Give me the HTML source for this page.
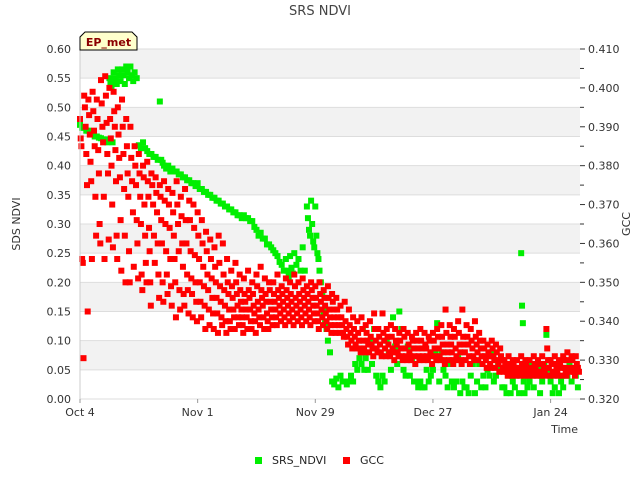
<!DOCTYPE html>
<html><head><meta charset="utf-8"><style>
body{margin:0;background:#fff;font-family:"Liberation Sans",sans-serif}
svg text{font-family:"DejaVu Sans","Liberation Sans",sans-serif}
</style></head><body>
<svg id="chart" width="640" height="480" xmlns="http://www.w3.org/2000/svg">
<text x="320" y="15" text-anchor="middle" font-size="13" fill="#444">SRS NDVI</text>
<g id="grid"></g>
<g id="marks"></g>
<g id="axes"></g>
<text x="20" y="224" transform="rotate(-90 20 224)" text-anchor="middle" font-size="11" fill="#333">SDS NDVI</text>
<text x="630" y="224" transform="rotate(-90 630 224)" text-anchor="middle" font-size="11" fill="#333">GCC</text>
<text x="578" y="433" text-anchor="end" font-size="11" fill="#333">Time</text>
<g>
<path d="M80,50 L80,37 L85,32 L132,32 L137,37 L137,50 Z" fill="#ffffcc" stroke="#000" stroke-width="1"/>
<text x="108.5" y="46" text-anchor="middle" font-size="11" font-weight="bold" fill="#8b0000">EP_met</text>
</g>
<g>
<g><rect x="255" y="457" width="7" height="7" fill="#00ee00"/><text x="272" y="464" font-size="11" fill="#222">SRS_NDVI</text></g>
<g><rect x="343" y="457" width="7" height="7" fill="#ff0000"/><text x="360" y="464" font-size="11" fill="#222">GCC</text></g>
</g>
</svg>
<script>
// NDVI: [dayOffsetFromOct4, values...]
const ndviData = [
[0,.47,.465],[1,.465,.46],[2,.46,.455],[3,.455,.45],[4,.45,.448],[5,.447,.445],[6,.445,.44],
[7,.55,.54,.535,.44],[8,.56,.55,.545,.54],[9,.565,.555,.545],[10,.565,.555,.54],[11,.57,.56,.55],[12,.57,.555,.545],[13,.56,.55],
[14,.435,.43],[15,.44,.43],[16,.425,.42],[17,.42,.415],[18,.415,.41],[19,.51,.41,.405],[20,.40,.395],[21,.40,.39],[22,.395,.39],
[23,.39,.385],[24,.385,.38],[25,.38,.375],[26,.375,.37],[27,.37,.365],[28,.37,.36],[29,.36,.355],[30,.355,.35],[31,.35,.345],
[32,.345,.34],[33,.34,.335],[34,.335,.33],[35,.33,.325],[36,.325,.32],[37,.32,.315],[38,.315,.31],[39,.315,.31],[40,.31,.305],
[41,.305,.295],[42,.29,.28],[43,.285,.275],[44,.275,.265],[45,.265,.26],[46,.255,.25],[47,.245,.235],[48,.23,.22],[49,.24,.22,.21],
[50,.245,.225,.215],[51,.25,.23],[52,.24,.22],[53,.26,.22],[54,.33,.31,.29,.28],[55,.34,.30,.27,.26],[56,.33,.28,.25,.24],
[57,.22,.20,.18],[58,.15,.13,.12],[59,.10,.08],[60,.03,.025],[61,.035,.02],[62,.04,.03],[63,.03,.025],[64,.03,.04],
[65,.03,.06],[66,.05,.07],[67,.06,.12,.05],[68,.07,.05],[69,.10,.06],[70,.12,.04],[71,.03,.02],[72,.04,.03],
[73,.10,.08],[74,.05,.14],[75,.09,.06],[76,.15,.12],[77,.05,.04],[78,.09,.04],[79,.07,.03],[80,.03,.02],[81,.03,.02],
[82,.02,.05],[83,.03,.04],[84,.05,.08],[85,.13,.03],[86,.08,.05],[87,.04,.02],[88,.06,.03],[89,.02,.03],[90,.07,.01],
[91,.03,.02],[92,.02,.01],[93,.04,.06],[94,.01,.03],[95,.06,.02],[96,.04,.02],[97,.05,.04],[98,.08,.03],[99,.04,.06],
[100,.05,.02],[101,.02,.01],[102,.04,.01],[103,.03,.02],[104,.04,.01],[105,.25,.16,.13,.03,.01],[106,.04,.02],[107,.03,.06],
[108,.02,.04],[109,.05,.01],[110,.03,.06],[111,.11,.05],[112,.03,.01],[113,.02,.04],[114,.01,.03],[115,.02,.04],
[116,.04,.06],[117,.03,.05],[118,.04,.02]
];
// GCC: [dayOffsetFromOct4, values...]
const gccData = [
[0,.392,.387,.385,.356,.355,.3305],[1,.398,.395,.390,.383,.375,.3425],[2,.397,.393,.388,.381,.376,.356],
[3,.399,.394,.389,.385,.372,.362],[4,.397,.392,.384,.378,.365,.360],[5,.402,.396,.390,.386,.372,.356],
[6,.403,.398,.391,.383,.378,.361],[7,.400,.392,.387,.380,.370,.359],[8,.399,.394,.390,.384,.376,.362,.356],
[9,.395,.388,.382,.377,.366,.353],[10,.397,.390,.383,.374,.362,.350],[11,.392,.385,.378,.372,.358,.350],
[12,.390,.382,.376,.368,.354],[13,.385,.380,.375,.366,.360,.351],[14,.383,.378,.372,.365,.352,.348],
[15,.380,.377,.370,.362,.355,.350],[16,.381,.376,.372,.364,.358,.350,.344],[17,.378,.375,.370,.362,.355],
[18,.377,.373,.368,.360,.352,.346],[19,.375,.372,.366,.360,.350,.345],[20,.376,.371,.365,.358,.352,.347],
[21,.374,.370,.364,.356,.349,.344],[22,.373,.368,.362,.356,.350,.341],[23,.376,.370,.365,.358,.348,.343],
[24,.372,.367,.360,.354,.347,.344],[25,.374,.366,.360,.352,.348,.342],[26,.371,.366,.358,.351,.347,.341],
[27,.370,.364,.357,.350,.345,.340],[28,.368,.362,.356,.350,.345,.341],[29,.366,.360,.354,.349,.344,.338],
[30,.363,.358,.352,.348,.343,.339],[31,.361,.356,.351,.346,.342,.338],[32,.359,.354,.350,.346,.342,.337],
[33,.362,.355,.349,.345,.341,.339],[34,.360,.352,.348,.344,.340,.337],[35,.356,.350,.347,.343,.340,.338],
[36,.353,.349,.346,.343,.341,.338],[37,.355,.350,.347,.344,.341,.339],[38,.352,.348,.345,.343,.341,.339,.337],
[39,.351,.347,.345,.343,.341,.338],[40,.353,.348,.346,.343,.340,.338],[41,.350,.347,.344,.342,.340,.337],
[42,.352,.349,.345,.343,.341,.339],[43,.354,.348,.346,.344,.341,.338],[44,.351,.347,.345,.342,.340,.338],
[45,.350,.348,.345,.343,.341,.339],[46,.350,.347,.345,.343,.341,.339],[47,.352,.348,.346,.344,.342,.340],
[48,.349,.347,.345,.343,.341,.339],[49,.351,.348,.346,.344,.342,.340],[50,.350,.347,.345,.343,.341,.339],
[51,.352,.349,.346,.344,.342,.340],[52,.350,.347,.345,.343,.341,.339],[53,.351,.348,.346,.344,.342,.340],
[54,.349,.347,.345,.343,.341,.339],[55,.350,.348,.346,.344,.342,.340],[56,.349,.346,.344,.342,.340,.338],
[57,.350,.347,.345,.343,.341,.339],[58,.348,.346,.344,.342,.340,.338],[59,.349,.346,.343,.341,.339,.337],
[60,.347,.345,.343,.341,.339,.337],[61,.346,.343,.341,.339,.337],[62,.344,.341,.339,.337,.336],
[63,.345,.340,.338,.336,.334],[64,.343,.339,.337,.335,.333],[65,.341,.338,.336,.334,.333],
[66,.340,.337,.335,.333,.332],[67,.341,.338,.335,.333,.332],[68,.339,.337,.335,.334,.332],
[69,.340,.336,.334,.333,.331],[70,.342,.338,.335,.333,.332],[71,.338,.336,.334,.332,.331],
[72,.342,.337,.335,.333,.331],[73,.338,.336,.334,.332,.331],[74,.339,.336,.333,.332,.330],
[75,.338,.335,.334,.332,.331],[76,.337,.335,.333,.331,.330],[77,.338,.336,.333,.331,.330],
[78,.337,.334,.332,.331,.330],[79,.336,.335,.333,.331,.329],[80,.337,.335,.333,.331,.330],
[81,.338,.335,.333,.331,.330],[82,.337,.334,.333,.331,.330],[83,.336,.335,.332,.331,.329],
[84,.337,.335,.333,.331,.330],[85,.338,.336,.333,.331,.330],[86,.339,.336,.334,.332,.330,.329],
[87,.343,.337,.334,.332,.330],[88,.339,.336,.334,.332,.330,.329],[89,.338,.336,.333,.331,.330],
[90,.340,.337,.334,.332,.330,.329],[91,.343,.336,.334,.332,.330],[92,.339,.336,.334,.331,.329],
[93,.338,.335,.333,.331,.330],[94,.340,.336,.334,.332,.330],[95,.337,.335,.333,.331,.329],
[96,.335,.333,.331,.330,.328],[97,.334,.332,.331,.329,.328],[98,.335,.333,.331,.330,.328],
[99,.334,.332,.330,.329,.327],[100,.333,.331,.330,.328,.327],[101,.330,.329,.328,.327,.326],
[102,.331,.329,.328,.327,.326],[103,.330,.329,.328,.327,.326],[104,.330,.328,.327,.326],
[105,.331,.329,.328,.327,.326],[106,.330,.329,.328,.327,.326],[107,.330,.328,.327,.326],
[108,.331,.329,.328,.327,.326],[109,.330,.329,.327,.326],[110,.331,.329,.328,.327,.326],
[111,.338,.333,.330,.328,.326],[112,.330,.329,.327,.326],[113,.331,.329,.328,.327,.326],
[114,.330,.329,.328,.326],[115,.331,.330,.328,.327,.326],[116,.332,.330,.328,.327],
[117,.331,.330,.328,.327,.326],[118,.331,.329,.328,.327]
];
const xTickLabels = ["Oct 4","Nov 1","Nov 29","Dec 27","Jan 24"];
const xTickDays = [0,28,56,84,112];
const leftTicks = [0,0.05,0.10,0.15,0.20,0.25,0.30,0.35,0.40,0.45,0.50,0.55,0.60];
const rightTicks = [0.32,0.33,0.34,0.35,0.36,0.37,0.38,0.39,0.40,0.41];

const X0=80,X1=580,Y0=399,Y1=49,DAYS=119;
const xs=d=>X0+d/DAYS*(X1-X0);
const yL=v=>Y0-(v-0)/(0.6-0)*(Y0-Y1);
const yR=v=>Y0-(v-0.32)/(0.41-0.32)*(Y0-Y1);
const NS="http://www.w3.org/2000/svg";
function mk(tag,attrs,parent){const e=document.createElementNS(NS,tag);for(const k in attrs)e.setAttribute(k,attrs[k]);parent.appendChild(e);return e;}
const grid=document.getElementById('grid'),marks=document.getElementById('marks'),axes=document.getElementById('axes');
for(let i=0;i<leftTicks.length-1;i++){
  const a=leftTicks[i],b=leftTicks[i+1];
  const r=mk('rect',{x:X0,y:yL(b),width:X1-X0,height:yL(a)-yL(b),fill:(i%2===1)?'#f2f2f2':'#ffffff'},grid);
  
  
}
leftTicks.forEach(v=>{
  const l=mk('line',{x1:X0,x2:X1,y1:yL(v),y2:yL(v),stroke:'#dddddd','stroke-width':1},grid);
  
  
  const t=mk('text',{x:X0-9,y:yL(v)+4,'text-anchor':'end','font-size':11,fill:'#333'},axes);
  t.textContent=v.toFixed(2);
  
  
});
rightTicks.forEach((v,i)=>{
  const t=mk('text',{x:X1+8,y:yR(v)+4,'font-size':11,fill:'#333'},axes);
  t.textContent=v.toFixed(3);
  
  
  mk('line',{x1:X1,x2:X1+5,y1:yR(v),y2:yR(v),stroke:'#333'},axes);
  if(i<rightTicks.length-1){mk('line',{x1:X1,x2:X1+4,y1:yR(v+0.005),y2:yR(v+0.005),stroke:'#333'},axes);}
});
xTickDays.forEach((d,i)=>{
  mk('line',{x1:xs(d),x2:xs(d),y1:Y0,y2:Y0+4,stroke:'#999'},axes);
  const t=mk('text',{x:xs(d),y:Y0+17,'text-anchor':'middle','font-size':11,fill:'#333'},axes);
  t.textContent=xTickLabels[i];
  
  
});
mk('line',{x1:X0,x2:X0,y1:Y1,y2:Y0,stroke:'#ccc'},axes);
function plot(data,yfn,color,name){
  data.forEach(row=>{
    const d=row[0],vals=row.slice(1),n=vals.length;
    vals.forEach((v,i)=>{
      const r=mk('rect',{x:xs(d+i/n)-3,y:yfn(v)-3,width:6,height:6,fill:color},marks);
      
      
    });
  });
}
plot(ndviData,yL,'#00ee00','ndvi-point');
plot(gccData,yR,'#ff0000','gcc-point');
</script>
</body></html>
